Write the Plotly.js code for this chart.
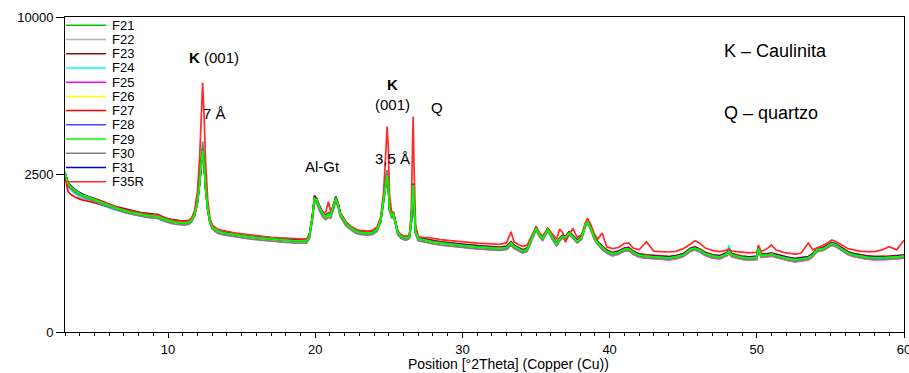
<!DOCTYPE html>
<html><head><meta charset="utf-8">
<script src="https://cdn.plot.ly/plotly-3.0.1.min.js"></script>
<style>html,body{margin:0;padding:0;background:#fff}#chart{width:909px;height:373px}</style>
</head><body><div id="chart"></div>
<script>
// Position [°2Theta]
const twoTheta = [
3.0,3.1,3.2,3.35,3.5,3.7,3.9,4.15,4.5,4.8,
5.1,5.4,5.7,6.0,6.3,6.6,6.9,7.2,7.5,7.8,
8.1,8.4,8.7,9.0,9.3,9.6,9.9,10.2,10.5,10.8,
11.1,11.4,11.6,11.8,12.0,12.15,12.25,12.35,12.45,12.55,
12.7,12.85,13.0,13.25,13.5,14.0,14.5,15.0,15.5,16.0,
16.5,17.0,17.5,18.0,18.5,19.0,19.4,19.6,19.8,19.95,
20.1,20.3,20.5,20.7,20.9,21.05,21.2,21.4,21.55,21.7,
21.9,22.1,22.4,22.7,23.0,23.3,23.6,23.9,24.2,24.45,
24.65,24.8,24.88,24.96,25.05,25.2,25.3,25.4,25.6,25.8,
26.0,26.2,26.4,26.52,26.6,26.65,26.72,26.82,27.0,27.3,
27.7,28.0,28.5,29.0,29.5,30.0,30.5,31.0,31.5,32.0,
32.5,33.0,33.3,33.5,33.8,34.1,34.4,34.7,35.0,35.25,
35.45,35.8,36.1,36.4,36.6,36.8,37.0,37.25,37.5,37.8,
38.1,38.35,38.5,38.7,38.95,39.2,39.5,39.8,40.2,40.6,
41.0,41.3,41.6,42.0,42.5,43.0,43.5,44.0,44.5,45.0,
45.5,45.8,46.1,46.5,47.0,47.5,48.0,48.1,48.3,48.7,
49.0,49.5,50.0,50.1,50.3,50.7,51.0,51.3,51.8,52.2,
52.6,53.0,53.5,53.8,54.1,54.5,54.8,55.1,55.4,55.8,
56.2,56.6,57.0,57.5,58.0,58.5,59.0,59.5,60.0];

// Intensity [counts]
const F21 = [
2545,2355,2240,2145,2085,2015,1955,1895,1838,1795,
1752,1710,1658,1615,1572,1532,1505,1462,1445,1418,
1405,1378,1368,1356,1352,1298,1264,1232,1218,1198,
1198,1208,1264,1378,1705,2245,2905,3320,2860,2095,
1505,1218,1114,1048,1014,978,958,932,918,898,
888,868,864,848,844,828,838,918,1305,1795,
1765,1555,1425,1336,1405,1366,1565,1795,1655,1396,
1294,1176,1105,1036,1004,986,990,996,1066,1255,
1755,2290,2470,2205,1495,1345,1415,1285,996,934,
896,894,916,1205,1995,2170,1605,996,884,856,
844,816,804,781,769,746,746,728,726,708,
709,716,804,736,704,656,694,876,1084,946,
884,1056,904,776,874,916,904,986,924,826,
904,1146,1224,1096,904,796,724,656,619,636,
694,696,644,591,584,566,564,551,574,596,
694,706,684,616,584,566,624,656,604,576,
564,546,564,696,594,596,614,586,564,536,
529,536,559,596,684,696,744,786,764,686,
634,596,584,561,559,551,564,566,584];
const F22 = [
2520,2330,2210,2120,2050,1985,1930,1870,1810,1765,
1725,1680,1640,1590,1545,1510,1480,1440,1415,1395,
1375,1355,1345,1335,1325,1275,1240,1210,1190,1175,
1170,1190,1240,1370,1720,2300,3000,3480,2950,2150,
1500,1200,1085,1025,990,960,935,915,895,880,
865,850,840,830,820,812,815,900,1270,1750,
1720,1520,1390,1310,1370,1340,1530,1760,1620,1370,
1260,1155,1075,1020,980,970,965,980,1040,1245,
1760,2380,2560,2280,1520,1320,1400,1260,980,910,
880,870,900,1170,1980,2140,1570,980,860,840,
820,800,782,765,748,732,724,714,705,695,
688,702,780,722,684,645,675,865,1065,935,
865,1045,885,765,855,905,885,975,905,815,
885,1135,1210,1085,885,785,705,645,600,625,
675,686,625,582,567,557,547,542,557,587,
676,696,666,607,567,557,607,645,588,567,
547,537,547,680,577,587,597,577,547,527,
512,527,542,587,667,687,727,777,747,677,
617,587,567,552,542,542,547,557,567];
const F23 = [
2560,2390,2260,2170,2100,2040,1985,1920,1865,1815,
1780,1740,1690,1645,1605,1570,1540,1510,1485,1465,
1445,1425,1410,1400,1395,1345,1300,1280,1260,1250,
1245,1255,1300,1410,1730,2280,2950,3400,2900,2150,
1540,1260,1145,1080,1040,1005,980,958,940,925,
910,895,885,875,865,855,860,950,1350,1880,
1800,1600,1460,1370,1430,1400,1590,1850,1690,1430,
1320,1210,1125,1065,1025,1015,1010,1025,1085,1290,
1790,2350,2540,2250,1540,1370,1450,1310,1025,955,
925,915,945,1230,2050,2230,1640,1025,905,885,
860,842,820,805,785,770,760,750,740,730,
722,738,820,760,718,676,708,900,1120,975,
900,1085,920,800,890,940,920,1010,940,850,
920,1170,1245,1120,920,818,738,676,630,655,
706,716,656,610,595,585,575,570,585,615,
705,726,696,636,595,585,636,676,615,595,
575,565,575,715,605,615,625,605,575,555,
540,555,570,615,695,716,756,806,776,706,
646,615,595,580,570,570,575,585,595];
const F24 = [
2480,2290,2150,2050,1990,1920,1870,1800,1750,1705,
1670,1630,1590,1550,1510,1485,1460,1440,1420,1400,
1385,1368,1350,1345,1335,1290,1250,1225,1205,1190,
1185,1200,1250,1370,1690,2240,2880,3300,2820,2080,
1490,1210,1100,1040,1000,972,948,928,908,893,
878,864,854,844,834,824,829,912,1290,1780,
1745,1548,1410,1330,1390,1360,1548,1785,1636,1390,
1280,1170,1092,1032,993,983,978,993,1052,1250,
1735,2280,2460,2185,1490,1330,1410,1272,993,924,
894,884,914,1190,1985,2160,1590,993,874,854,
834,815,795,780,760,745,737,727,717,707,
700,715,795,735,695,655,685,875,1075,945,
875,1055,895,775,865,915,895,985,915,825,
895,1145,1215,1095,895,795,715,655,610,635,
685,695,635,590,575,565,555,550,565,595,
685,705,675,615,575,565,640,760,595,575,
555,545,555,695,585,595,605,585,555,535,
520,535,550,595,675,695,735,785,755,685,
625,595,575,560,550,550,555,565,575];
const F25 = [
2500,2330,2200,2110,2045,1975,1925,1860,1805,1755,
1715,1672,1628,1578,1538,1502,1468,1434,1408,1388,
1368,1348,1334,1328,1318,1270,1230,1205,1185,1170,
1165,1180,1230,1350,1670,2220,2860,3280,2800,2060,
1470,1190,1075,1015,975,945,922,902,882,868,
852,838,828,818,808,798,803,888,1265,1760,
1720,1525,1388,1308,1368,1338,1525,1760,1612,1368,
1258,1148,1068,1008,970,958,955,968,1028,1228,
1715,2260,2440,2160,1470,1308,1388,1248,968,898,
868,858,888,1168,1960,2140,1570,968,850,830,
810,790,770,755,735,720,712,702,692,682,
675,690,770,710,670,630,660,850,1050,920,
850,1030,870,750,840,890,870,960,890,800,
870,1120,1190,1070,870,770,690,630,585,610,
660,670,610,565,550,540,530,525,540,570,
660,680,650,590,550,540,590,630,570,550,
530,520,530,670,560,570,580,560,530,510,
495,510,525,570,650,670,710,760,730,660,
600,570,550,535,525,525,530,540,550];
const F26 = [
2515,2340,2205,2125,2055,1985,1935,1865,1815,1765,
1725,1680,1636,1585,1545,1510,1476,1440,1416,1396,
1376,1356,1340,1336,1326,1276,1236,1210,1190,1176,
1170,1186,1236,1356,1676,2226,2870,3300,2820,2075,
1478,1196,1085,1026,986,956,931,911,891,876,
861,846,836,826,816,806,811,896,1276,1775,
1736,1536,1396,1316,1376,1346,1536,1776,1626,1376,
1266,1156,1076,1016,976,966,961,976,1036,1236,
1725,2275,2455,2175,1476,1316,1396,1256,976,906,
876,866,896,1176,1975,2155,1576,976,856,836,
816,796,776,761,741,726,718,708,698,688,
681,696,776,716,676,636,666,856,1056,926,
856,1036,876,756,846,896,876,966,896,806,
876,1126,1196,1076,876,776,696,636,591,616,
666,676,616,571,556,546,536,531,546,576,
666,686,656,596,556,546,596,636,576,556,
536,526,536,676,566,576,586,566,536,516,
501,516,531,576,656,676,716,766,736,666,
606,576,556,541,531,531,536,546,556];
const F27 = [
2450,2150,2000,1920,1870,1830,1800,1760,1730,1700,
1680,1650,1620,1585,1555,1525,1495,1470,1450,1432,
1415,1400,1390,1390,1385,1335,1290,1265,1245,1232,
1228,1240,1290,1400,1720,2270,2920,3380,2880,2130,
1530,1250,1140,1075,1035,1000,975,955,935,920,
905,890,880,870,860,850,855,940,1320,1820,
1780,1580,1440,1360,1420,1390,1580,1820,1670,1420,
1310,1200,1120,1060,1020,1010,1005,1020,1080,1280,
1770,2330,2510,2230,1520,1360,1440,1300,1020,950,
920,910,940,1220,2030,2210,1620,1020,900,880,
860,840,820,805,785,770,762,752,742,732,
725,740,820,760,720,680,710,900,1100,970,
900,1080,920,800,890,940,920,1010,940,850,
920,1170,1240,1120,920,820,740,680,635,660,
710,720,660,615,600,590,580,575,590,620,
710,730,700,640,600,590,640,680,620,600,
580,570,580,720,610,620,630,610,580,560,
545,560,575,620,700,720,760,810,780,710,
650,620,600,585,575,575,580,590,600];
const F28 = [
2530,2345,2220,2140,2075,2000,1955,1880,1832,1782,
1745,1698,1655,1602,1566,1528,1496,1458,1436,1414,
1396,1374,1360,1354,1346,1296,1254,1230,1210,1196,
1190,1206,1254,1374,1694,2244,2890,3320,2840,2090,
1494,1214,1104,1044,1004,976,950,930,910,896,
880,866,856,846,836,826,830,916,1294,1792,
1754,1554,1414,1336,1396,1364,1554,1794,1644,1396,
1284,1176,1096,1036,996,986,980,996,1056,1254,
1744,2290,2470,2190,1494,1336,1414,1274,996,926,
896,886,916,1194,1990,2170,1594,996,876,856,
836,816,796,781,761,746,738,728,718,708,
701,716,796,736,696,656,686,876,1076,946,
876,1056,896,776,866,916,896,986,916,826,
896,1146,1216,1096,896,796,716,656,611,636,
686,696,636,591,576,566,556,551,566,596,
686,706,676,616,576,566,616,656,596,576,
556,546,556,696,586,596,606,586,556,536,
521,536,551,596,676,696,736,786,756,686,
626,596,576,561,551,551,556,566,576];
const F29 = [
2540,2360,2230,2150,2080,2010,1960,1890,1840,1790,
1750,1705,1660,1610,1570,1535,1500,1465,1440,1420,
1400,1380,1365,1360,1350,1300,1260,1235,1215,1200,
1195,1210,1260,1380,1700,2250,2900,3340,2850,2100,
1500,1220,1110,1050,1010,980,955,935,915,900,
885,870,860,850,840,830,835,920,1300,1800,
1760,1560,1420,1340,1400,1370,1560,1800,1650,1400,
1290,1180,1100,1040,1000,990,985,1000,1060,1260,
1750,2300,2480,2200,1500,1340,1420,1280,1000,930,
900,890,920,1200,2000,2180,1600,1000,880,860,
840,820,800,785,765,750,742,732,722,712,
705,720,800,740,700,660,690,880,1080,950,
880,1060,900,780,870,920,900,990,920,830,
900,1150,1220,1100,900,800,720,660,615,640,
690,700,640,595,580,570,560,555,570,600,
690,710,680,620,580,570,620,660,600,580,
560,550,560,700,590,600,610,590,560,540,
525,540,555,600,680,700,740,790,760,690,
630,600,580,565,555,555,560,570,580];
const F30 = [
2500,2310,2190,2100,2030,1960,1910,1850,1790,1745,
1700,1660,1615,1565,1525,1490,1455,1420,1395,1375,
1355,1335,1320,1310,1300,1255,1215,1190,1170,1155,
1150,1165,1220,1360,1750,2400,3150,3650,3100,2250,
1520,1190,1070,1005,970,940,915,895,875,860,
845,830,820,810,800,792,795,880,1240,1700,
1660,1470,1340,1270,1320,1300,1480,1710,1580,1340,
1235,1130,1055,995,960,950,945,960,1020,1230,
1780,2450,2645,2350,1550,1300,1380,1240,960,890,
860,850,880,1150,1950,2100,1550,960,840,820,
800,782,762,748,730,715,708,698,688,680,
672,688,760,705,668,632,660,850,1050,915,
848,1030,868,750,838,888,868,958,888,800,
868,1120,1200,1070,870,770,690,632,590,612,
660,672,612,570,555,545,535,530,545,575,
662,682,652,595,555,545,595,630,575,555,
535,525,535,660,565,575,585,565,535,515,
500,515,530,575,655,675,712,762,732,662,
605,575,555,540,530,530,535,545,555];
const F31 = [
2555,2370,2245,2165,2095,2025,1975,1915,1850,1800,
1762,1716,1672,1622,1582,1546,1512,1476,1452,1432,
1412,1392,1376,1372,1362,1312,1272,1246,1226,1212,
1206,1222,1272,1392,1712,2262,2910,3350,2860,2110,
1510,1230,1120,1060,1020,990,965,945,925,910,
895,880,870,860,850,840,845,930,1310,1810,
1770,1570,1430,1350,1410,1380,1570,1810,1660,1410,
1300,1190,1110,1050,1010,1000,995,1010,1070,1270,
1760,2310,2490,2210,1510,1350,1430,1290,1010,940,
910,900,930,1210,2010,2190,1610,1010,890,870,
850,830,810,795,775,760,752,742,732,722,
715,730,810,750,710,670,700,890,1090,960,
890,1070,910,790,880,930,910,1000,930,840,
910,1160,1230,1110,910,810,730,670,625,650,
700,710,650,605,590,580,570,565,580,610,
700,720,690,630,590,580,630,670,610,590,
570,560,570,710,600,610,620,600,570,550,
535,550,565,610,690,710,750,800,770,700,
640,610,590,575,565,565,570,580,590];
const F35R = [
2500,2300,2190,2110,2060,2000,1960,1900,1850,1800,
1765,1725,1680,1630,1590,1555,1520,1490,1465,1445,
1425,1405,1390,1385,1380,1330,1290,1265,1245,1235,
1230,1245,1310,1480,2000,3100,4800,6260,4700,2900,
1750,1300,1160,1090,1050,1015,990,970,950,935,
918,905,895,885,875,865,870,950,1300,1780,
1750,1560,1450,1440,1710,1450,1600,1780,1640,1420,
1320,1210,1130,1075,1040,1030,1025,1045,1110,1330,
2000,3300,4250,3500,1900,1420,1460,1300,1030,960,
930,920,960,1400,3600,4670,2600,1150,920,900,
900,880,860,845,830,815,805,795,790,780,
775,800,1013,820,770,740,760,930,1100,985,
930,1080,960,870,1065,1000,810,960,1080,900,
960,1200,1300,1180,980,870,990,730,700,720,
790,800,710,680,820,660,650,645,655,700,
780,840,800,710,670,650,680,700,660,650,
640,630,640,760,650,700,763,680,640,620,
610,625,800,680,720,760,800,853,820,760,
700,680,660,650,650,680,733,680,850];

const seriesNames  = ['F21','F22','F23','F24','F25','F26','F27','F28','F29','F30','F31','F35R'];
const seriesValues = [F21, F22, F23, F24, F25, F26, F27, F28, F29, F30, F31, F35R];
const seriesColors = ['#00c800','#b4b4b4','#8c1010','#00ffff','#ff00ff','#ffff00','#ff0000','#4848ff','#00ff00','#808080','#0000c8','#ff2a2a'];
const drawOrder    = ['F22','F23','F24','F25','F26','F27','F28','F30','F31','F35R','F21','F29'];

const yTickCounts = [0, 2500, 10000];
const xTickValues = [10, 20, 30, 40, 50, 60];

const W = 909, H = 373, ML = 65, MR = 5, MT = 17, MB = 41;
const PW = W - ML - MR, PH = H - MT - MB;
const px = x => (x - ML) / PW;
const py = y => (H - MB - y) / PH;

const traces = drawOrder.map(name => {
  const i = seriesNames.indexOf(name);
  return {
    x: twoTheta, y: seriesValues[i].map(v => Math.sqrt(v)),
    type: 'scatter', mode: 'lines', name: name,
    line: {color: seriesColors[i], width: 1.7},
    showlegend: false, hoverinfo: 'skip'
  };
});

const FONT = 'Arial, "Liberation Sans", sans-serif';
const shapes = [];
const annotations = [];
seriesNames.forEach((n, i) => {
  const yc = 25.3 + i * 14.22;
  shapes.push({type: 'line', xref: 'paper', yref: 'paper', x0: px(66), x1: px(106), y0: py(yc), y1: py(yc),
    line: {color: seriesColors[i], width: 1.5}});
  annotations.push({xref: 'paper', yref: 'paper', x: px(110), y: py(yc), xanchor: 'left', yanchor: 'middle',
    text: n, showarrow: false, font: {family: FONT, size: 13, color: '#000'}});
});
const lab = (text, x, y, size, anchor) => annotations.push({xref: 'paper', yref: 'paper', x: px(x), y: py(y),
  xanchor: anchor || 'left', yanchor: 'middle', text: text, showarrow: false,
  font: {family: FONT, size: size, color: '#000'}});
lab('<b>K</b> (001)', 187, 58, 15);
lab('7 Å', 201, 113, 15);
lab('Al-Gt', 303, 166, 15);
lab('<b>K</b>', 392, 84, 15, 'center');
lab('(001)', 392, 104, 15, 'center');
lab('3,5 Å', 373, 158, 15);
lab('Q', 429, 108, 15);
lab('K – Caulinita', 722, 51, 18);
lab('Q – quartzo', 722, 113, 18);
annotations.push({xref: 'paper', yref: 'paper', x: px(508), y: py(364), xanchor: 'center', yanchor: 'middle',
  text: 'Position [°2Theta] (Copper (Cu))', showarrow: false, font: {family: FONT, size: 14, color: '#000'}});

const layout = {
  width: W, height: H,
  margin: {l: ML, r: MR, t: MT, b: MB, pad: 0},
  paper_bgcolor: '#fff', plot_bgcolor: '#fff',
  showlegend: false,
  font: {family: FONT, size: 13, color: '#000'},
  xaxis: {
    range: [3, 60], tickmode: 'array', tickvals: xTickValues, ticktext: xTickValues.map(String),
    ticks: 'outside', ticklen: 5, tickcolor: '#000', showline: true, linecolor: '#000', linewidth: 1,
    mirror: true, showgrid: false, zeroline: false, tickfont: {family: FONT, size: 13},
    ticklabeloverflow: 'allow',
    minor: {dtick: 1, tick0: 0, ticks: 'outside', ticklen: 3, tickcolor: '#000', showgrid: false}
  },
  yaxis: {
    range: [0, 100], tickmode: 'array', tickvals: yTickCounts.map(v => Math.sqrt(v)),
    ticktext: yTickCounts.map(String), ticks: 'outside', ticklen: 8, tickcolor: '#000',
    showline: true, linecolor: '#000', linewidth: 1, mirror: true, showgrid: false, zeroline: false,
    tickfont: {family: FONT, size: 13}
  },
  shapes: shapes, annotations: annotations
};

Plotly.newPlot('chart', traces, layout, {staticPlot: true, displayModeBar: false});
</script></body></html>
